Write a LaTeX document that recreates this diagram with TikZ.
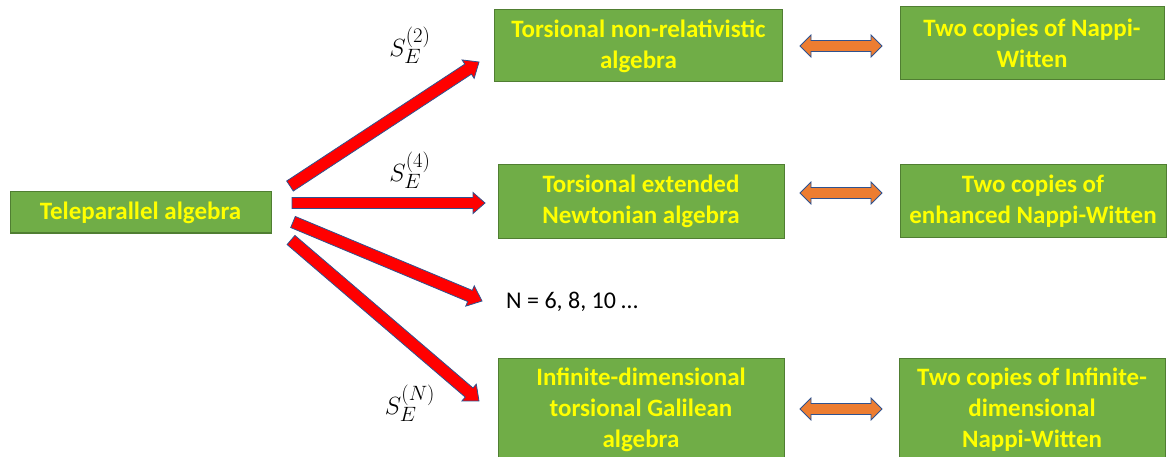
\documentclass[tikz,border=0pt]{standalone}
\usepackage{fontspec}
\setmainfont{Carlito}
\usetikzlibrary{calc}
\definecolor{boxgreen}{HTML}{70AD47}
\definecolor{boxedge}{HTML}{507E32}
\definecolor{boxtext}{HTML}{FFFF00}
\definecolor{arrowedge}{HTML}{2F528F}
\definecolor{dblorange}{HTML}{ED7D31}
\newcommand{\myblockarrow}[6]{%
  % #1 tail, #2 tip, #3 shaft half width, #4 head half width, #5 head length, #6 style
  \path ($(#2)!#5!(#1)$) coordinate (hb);
  \draw[#6] ($(#1)!#3!90:(#2)$) -- ($(hb)!#3!90:(#2)$) -- ($(hb)!#4!90:(#2)$) -- (#2)
    -- ($(hb)!#4!-90:(#2)$) -- ($(hb)!#3!-90:(#2)$) -- ($(#1)!#3!-90:(#2)$) -- cycle;
}
\newcommand{\mydoublearrow}[6]{%
  \path ($(#2)!#5!(#1)$) coordinate (hb);
  \path ($(#1)!#5!(#2)$) coordinate (ha);
  \draw[#6] (#1) -- ($(ha)!#4!-90:(#1)$) -- ($(ha)!#3!-90:(#1)$) -- ($(hb)!#3!90:(#2)$)
    -- ($(hb)!#4!90:(#2)$) -- (#2) -- ($(hb)!#4!-90:(#2)$) -- ($(hb)!#3!-90:(#2)$)
    -- ($(ha)!#3!90:(#1)$) -- ($(ha)!#4!90:(#1)$) -- cycle;
}
\newcommand{\mysl}[1]{\scalebox{1.2}{$\scriptstyle #1$}}
\tikzset{
  gbox/.style={draw=boxedge, line width=1pt, fill=boxgreen, text=boxtext,
    font=\bfseries\fontsize{25}{31}\selectfont, align=center, inner sep=0pt},
  redarr/.style={fill=red, draw=arrowedge, line width=0.8pt, line join=miter},
  orangearr/.style={fill=dblorange, draw=arrowedge, line width=0.8pt, line join=miter},
  slabel/.style={font=\fontsize{27}{30}\selectfont, inner sep=0pt},
  plain/.style={font=\fontsize{24}{28}\selectfont, inner sep=0pt}
}
\begin{document}
\begin{tikzpicture}[x=1pt,y=1pt]
\useasboundingbox (0,0) rectangle (1167,-457);
% boxes
\node[gbox, minimum width=261pt, minimum height=41pt] (tele) at (140.5,-212.5) {Teleparallel algebra};
\node[gbox, minimum width=288pt, minimum height=72pt] (tnr) at (638.5,-46) {Torsional non-relativistic\\algebra};
\node[gbox, minimum width=264pt, minimum height=73pt] (nw) at (1032,-43.5) {Two copies of Nappi-\\Witten};
\node[gbox, minimum width=286pt, minimum height=73pt] (ten) at (641,-201.5) {Torsional extended\\Newtonian algebra};
\node[gbox, minimum width=266pt, minimum height=73pt] (enw) at (1033,-201) {Two copies of\\enhanced Nappi-Witten};
\node[gbox, minimum width=286pt, minimum height=104pt] (inf) at (641,-410) {Infinite-dimensional\\torsional Galilean\\algebra};
\node[gbox, minimum width=266pt, minimum height=104pt] (inw) at (1032,-410) {Two copies of Infinite-\\dimensional\\Nappi-Witten};
% labels
\node[slabel] (s2) at (410,-45) {$S_{\mysl{E}}^{\mysl{(2)}}$};
\node[slabel] (s4) at (410,-170) {$S_{\mysl{E}}^{\mysl{(4)}}$};
\node[slabel] (sn) at (410,-403) {$S_{\mysl{E}}^{\mysl{(N)}}$};
\node[plain, anchor=west] (more) at (506,-302) {N = 6, 8, 10 …};
% red arrow endpoints
\coordinate (a1t) at (290,-186);
\coordinate (a1h) at (479,-62);
\coordinate (a2t) at (292,-203);
\coordinate (a2h) at (485,-203);
\coordinate (a3t) at (293,-222);
\coordinate (a3h) at (482,-301);
\coordinate (a4t) at (291,-240);
\coordinate (a4h) at (479,-401);
\myblockarrow{a1t}{a1h}{6pt}{11pt}{13pt}{redarr}
\myblockarrow{a2t}{a2h}{5.5pt}{10.5pt}{12pt}{redarr}
\myblockarrow{a3t}{a3h}{6pt}{11pt}{13pt}{redarr}
\myblockarrow{a4t}{a4h}{6pt}{11pt}{13pt}{redarr}
% orange double arrows between boxes
\coordinate (o1a) at (800,-46);
\coordinate (o1b) at (882,-46);
\coordinate (o2a) at (800,-193);
\coordinate (o2b) at (882,-193);
\coordinate (o3a) at (800,-409);
\coordinate (o3b) at (882,-409);
\mydoublearrow{o1a}{o1b}{5.5pt}{11pt}{11pt}{orangearr}
\mydoublearrow{o2a}{o2b}{5.5pt}{11pt}{11pt}{orangearr}
\mydoublearrow{o3a}{o3b}{5.5pt}{11pt}{11pt}{orangearr}
\end{tikzpicture}
\end{document}
